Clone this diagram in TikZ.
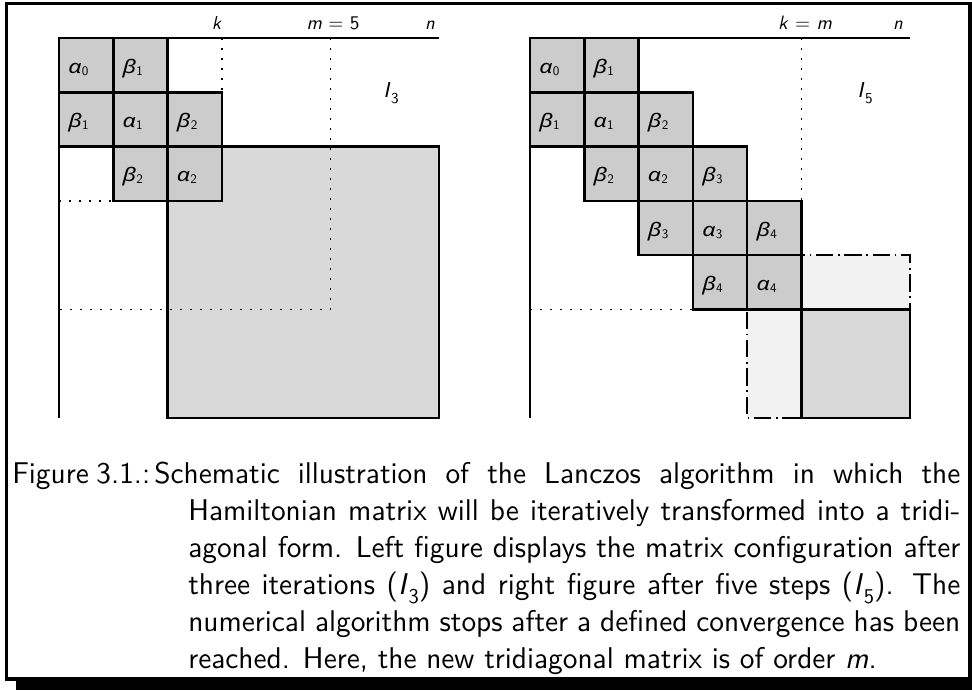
\documentclass[tikz,border=0pt]{standalone}
\usepackage{fontspec}
\newfontfamily\gkfont{Noto Sans}
\usepackage{graphicx}
\definecolor{cellgray}{HTML}{CCCCCC}
\definecolor{bigray}{HTML}{D9D9D9}
\definecolor{palegray}{HTML}{F2F2F2}
% sans text set at the 10pt design size, then scaled
\newcommand{\sfx}[2]{\scalebox{#1}{\fontsize{10}{12}\selectfont\sffamily #2}}
\newcommand{\capsc}[1]{\scalebox{2.2}[2.25]{\fontsize{10}{12}\selectfont\sffamily #1}}
\newcommand{\glab}[2]{\scalebox{1.25}[1]{\gkfont\itshape #1}\kern0.3pt\raisebox{-1.5pt}{\sfx{0.98}{#2}}}
\newcommand{\Isub}[1]{\textit{I}\kern0.03em\raisebox{-0.3em}{\scalebox{0.7}{#1}}}
\def\cs{54.3}
\tikzset{
  cellbox/.style={draw=black, line width=1.9pt, fill=cellgray,
    minimum width=40.725pt, minimum height=40.725pt,
    inner xsep=7pt, inner ysep=0pt, text width=26.7pt, align=left,
    text height=14pt, text depth=2pt, font=\fontsize{14}{16}\selectfont},
  axisline/.style={line width=1.7pt},
  dotline/.style={line width=1.2pt, dash pattern=on 1.2pt off 6.3pt},
  dashdotline/.style={line width=1.2pt, dash pattern=on 13pt off 3.5pt on 1.2pt off 3.5pt},
  bigblock/.style={draw=black, line width=1.9pt},
  toplab/.style={inner sep=0pt, anchor=base},
  ilab/.style={inner sep=0pt, anchor=base west},
  capnode/.style={inner sep=0pt, anchor=base west}
}
\begin{document}
\begin{tikzpicture}[x=0.75pt, y=-0.75pt]
\useasboundingbox (0,0) rectangle (972,690);
\fill[white] (0,0) rectangle (972,690);
% frame
\draw[line width=2.4pt] (6.5,3.5) rectangle (970,679);
\fill[black] (16,678) rectangle (972,690);

% ---------------- left matrix ----------------
\begin{scope}[shift={(59,38)}]
  \draw[bigblock, fill=bigray] (2*\cs,2*\cs) rectangle (7*\cs,7*\cs);
  \draw[axisline] (0,7*\cs) -- (0,0) -- (7*\cs,0);
  \draw[dotline] (3*\cs,0) -- (3*\cs,\cs);
  \draw[dotline] (5*\cs,0) -- (5*\cs,5*\cs) -- (0,5*\cs);
  \draw[dotline] (0,3*\cs) -- (\cs,3*\cs);
  \foreach \i/\j/\g/\s in {0/0/α/0, 1/0/β/1, 0/1/β/1, 1/1/α/1, 2/1/β/2, 1/2/β/2, 2/2/α/2}
    \node[cellbox] (L\i\j) at ({(\i+0.5)*\cs},{(\j+0.5)*\cs}) {\glab{\g}{\s}};
  \node[toplab] (kL) at (158,-9) {\sfx{1.4}{\textit{k}}};
  \node[toplab] (mL) at (274,-9) {\sfx{1.45}{\textit{m} = 5}};
  \node[toplab] (nL) at (371,-9) {\sfx{1.4}{\textit{n}}};
  \node[ilab] (IL) at (324,59) {\sfx{1.62}{\Isub{3}}};
\end{scope}

% ---------------- right matrix ----------------
\begin{scope}[shift={(530,38)}]
  \draw[dashdotline, fill=palegray] (4*\cs,4*\cs) rectangle (7*\cs,7*\cs);
  \draw[bigblock, fill=bigray] (5*\cs,5*\cs) rectangle (7*\cs,7*\cs);
  \draw[axisline] (0,7*\cs) -- (0,0) -- (7*\cs,0);
  \draw[dotline] (5*\cs,0) -- (5*\cs,3*\cs);
  \draw[dotline] (0,5*\cs) -- (3*\cs,5*\cs);
  \foreach \i/\j/\g/\s in {0/0/α/0, 1/0/β/1, 0/1/β/1, 1/1/α/1, 2/1/β/2,
                           1/2/β/2, 2/2/α/2, 3/2/β/3, 2/3/β/3, 3/3/α/3, 4/3/β/4,
                           3/4/β/4, 4/4/α/4}
    \node[cellbox] (R\i\j) at ({(\i+0.5)*\cs},{(\j+0.5)*\cs}) {\glab{\g}{\s}};
  \node[toplab] (kR) at (275,-9) {\sfx{1.45}{\textit{k} = \textit{m}}};
  \node[toplab] (nR) at (368,-9) {\sfx{1.4}{\textit{n}}};
  \node[ilab] (IR) at (327,59) {\sfx{1.62}{\Isub{5}}};
\end{scope}

% ---------------- caption ----------------
\node[capnode] (figlab) at (12,483) {\capsc{\makebox[47.05pt][s]{Figure 3.1.:}}};
\node[capnode] (c1) at (154,483) {\capsc{\makebox[274.8pt][s]{Schematic illustration of the Lanczos algorithm in which the}}};
\node[capnode] (c2) at (188,520) {\capsc{\makebox[263.2pt][s]{Hamiltonian matrix will be iteratively transformed into a tridi-}}};
\node[capnode] (c3) at (188,557) {\capsc{\makebox[263.2pt][s]{agonal form. Left figure displays the matrix configuration after}}};
\node[capnode] (c4) at (188,594) {\capsc{\makebox[263.2pt][s]{three iterations (\Isub{3}) and right figure after five steps (\Isub{5}). The}}};
\node[capnode] (c5) at (188,631) {\capsc{\makebox[263.2pt][s]{numerical algorithm stops after a defined convergence has been}}};
\node[capnode] (c6) at (188,668) {\capsc{reached. Here, the new tridiagonal matrix is of order \textit{m}.}};
\end{tikzpicture}
\end{document}
